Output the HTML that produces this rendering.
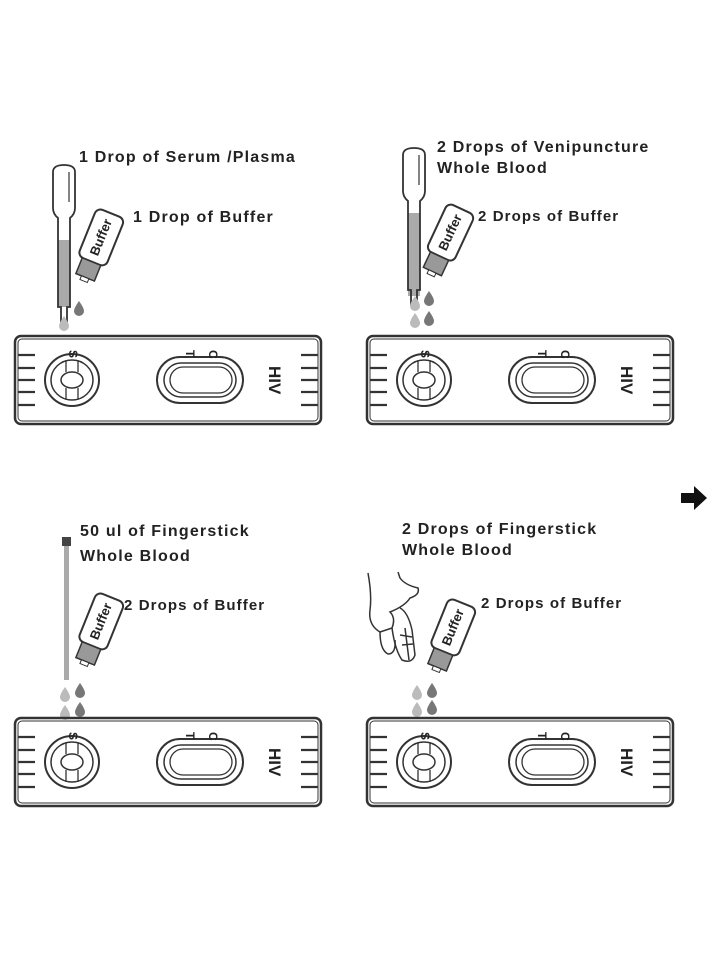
<!DOCTYPE html>
<html><head><style>
html,body{margin:0;padding:0;background:#fff;}
svg{display:block;}
text{font-family:"Liberation Sans",sans-serif;font-weight:bold;fill:#222;}
.l{font-size:16px;letter-spacing:1.2px;}
.m{font-size:15px;letter-spacing:1.1px;}
</style></head><body>
<svg width="712" height="971" viewBox="0 0 712 971" xmlns="http://www.w3.org/2000/svg">
<defs>
<g id="cas" fill="none" stroke="#333">
  <rect x="0" y="0" width="306" height="88" rx="6" stroke-width="2.5"/>
  <rect x="3" y="3" width="300" height="82" rx="4" stroke-width="1"/>
  <g stroke-width="2.2">
    <path d="M3 19H20M3 32H20M3 44H20M3 56H20M3 69H20"/>
    <path d="M286 19H303M286 32H303M286 44H303M286 56H303M286 69H303"/>
  </g>
  <ellipse cx="57" cy="44" rx="27" ry="26" stroke-width="2"/>
  <ellipse cx="57" cy="44" rx="21" ry="20" stroke-width="1.5"/>
  <ellipse cx="57" cy="44" rx="11" ry="8" stroke-width="1.5"/>
  <path d="M51 24V36M63 24V36M51 52V64M63 52V64" stroke-width="1.3"/>
  <rect x="142" y="21" width="86" height="46" rx="23" stroke-width="2"/>
  <rect x="149" y="27" width="72" height="34" rx="17" stroke-width="1.5"/>
  <rect x="155" y="31" width="62" height="26" rx="13" stroke-width="1.3"/>
</g>
<g id="bottle">
  <rect x="-15" y="-32" width="30" height="52" rx="6" fill="#fff" stroke="#333" stroke-width="2"/>
  <rect x="-10" y="20" width="20" height="17" fill="#999" stroke="#333" stroke-width="1.5"/>
  <rect x="-4" y="37" width="8" height="4" fill="#fff" stroke="#333" stroke-width="1"/>
</g>
<g id="pip" fill="none" stroke="#333" stroke-width="1.8">
  <path d="M0 0 Q0 -7 11 -7 Q22 -7 22 0 V36 Q22 42 17 46 V135 H14 V150 H8 V135 H5 V46 Q0 42 0 36 Z"/>
  <path d="M16 0 V30" stroke-width="1.2"/>
</g>
<path id="drop" d="M0 -7 Q5 0 5 3 A5 5 0 0 1 -5 3 Q-5 0 0 -7Z"/>
</defs>

<!-- Panel 1 -->
<text class="l" x="79" y="162">1 Drop of Serum /Plasma</text>
<text class="l" x="133" y="222">1 Drop of Buffer</text>
<rect x="58" y="240" width="12" height="67" fill="#aaa"/>
<use href="#pip" x="53" y="172"/>
<g transform="translate(99,243) rotate(22)"><use href="#bottle"/><text font-size="13" text-anchor="middle" transform="translate(4,-6) rotate(-90)">Buffer</text></g>
<use href="#drop" x="79" y="308" fill="#777"/>
<use href="#drop" x="64" y="323" fill="#bbb"/>
<use href="#cas" x="15" y="336"/>
<g transform="translate(15,336)">
<text font-size="12" transform="translate(54,14) rotate(90)">S</text>
<text font-size="12" transform="translate(171,14) rotate(90)">T</text>
<text font-size="12" transform="translate(194,14) rotate(90)">C</text>
<text font-size="17" font-weight="normal" transform="translate(254,30) rotate(90)">HIV</text>
</g>

<!-- Panel 2 -->
<text class="l" x="437" y="152">2 Drops of Venipuncture</text>
<text class="l" x="437" y="173">Whole Blood</text>
<text class="m" x="478" y="221">2 Drops of Buffer</text>
<rect x="408" y="213" width="12" height="83" fill="#aaa"/>
<use href="#pip" x="403" y="155"/>
<g transform="translate(448,238) rotate(25)"><use href="#bottle"/><text font-size="13" text-anchor="middle" transform="translate(4,-6) rotate(-90)">Buffer</text></g>
<use href="#drop" x="429" y="298" fill="#777"/>
<use href="#drop" x="429" y="318" fill="#777"/>
<use href="#drop" x="415" y="303" fill="#bbb"/>
<use href="#drop" x="415" y="320" fill="#bbb"/>
<use href="#cas" x="367" y="336"/>
<g transform="translate(367,336)">
<text font-size="12" transform="translate(54,14) rotate(90)">S</text>
<text font-size="12" transform="translate(171,14) rotate(90)">T</text>
<text font-size="12" transform="translate(194,14) rotate(90)">C</text>
<text font-size="17" font-weight="normal" transform="translate(254,30) rotate(90)">HIV</text>
</g>

<!-- Arrow -->
<path d="M681 493H694V486L707 498L694 510V503H681Z" fill="#111"/>

<!-- Panel 3 -->
<text class="l" x="80" y="536">50 ul of Fingerstick</text>
<text class="l" x="80" y="561">Whole Blood</text>
<text class="m" x="124" y="610">2 Drops of Buffer</text>
<rect x="62" y="537" width="9" height="9" fill="#444"/>
<rect x="64" y="546" width="5" height="134" fill="#aaa"/>
<g transform="translate(99,627) rotate(22)"><use href="#bottle"/><text font-size="13" text-anchor="middle" transform="translate(4,-6) rotate(-90)">Buffer</text></g>
<use href="#drop" x="80" y="690" fill="#777"/>
<use href="#drop" x="80" y="709" fill="#777"/>
<use href="#drop" x="65" y="694" fill="#bbb"/>
<use href="#drop" x="65" y="712" fill="#bbb"/>
<use href="#cas" x="15" y="718"/>
<g transform="translate(15,718)">
<text font-size="12" transform="translate(54,14) rotate(90)">S</text>
<text font-size="12" transform="translate(171,14) rotate(90)">T</text>
<text font-size="12" transform="translate(194,14) rotate(90)">C</text>
<text font-size="17" font-weight="normal" transform="translate(254,30) rotate(90)">HIV</text>
</g>

<!-- Panel 4 -->
<text class="l" x="402" y="534">2 Drops of Fingerstick</text>
<text class="l" x="402" y="555">Whole Blood</text>
<text class="m" x="481" y="608">2 Drops of Buffer</text>
<g fill="none" stroke="#333" stroke-width="1.5">
  <path d="M368 573 Q372 595 370 610 Q368 625 380 632 L392 628 Q396 618 390 612 Q405 606 410 598 Q420 595 418 588 Q405 585 400 578 L398 572"/>
  <path d="M380 632 Q380 650 388 654 Q396 654 395 640"/>
  <path d="M392 628 Q395 650 402 660 Q412 664 415 655 L412 630 Q408 612 400 608"/>
  <path d="M400 635 L412 637M402 645 L413 644M405 628 L409 660"/>
</g>
<g transform="translate(451,633) rotate(22)"><use href="#bottle"/><text font-size="13" text-anchor="middle" transform="translate(4,-6) rotate(-90)">Buffer</text></g>
<use href="#drop" x="432" y="690" fill="#777"/>
<use href="#drop" x="432" y="707" fill="#777"/>
<use href="#drop" x="417" y="692" fill="#bbb"/>
<use href="#drop" x="417" y="709" fill="#bbb"/>
<use href="#cas" x="367" y="718"/>
<g transform="translate(367,718)">
<text font-size="12" transform="translate(54,14) rotate(90)">S</text>
<text font-size="12" transform="translate(171,14) rotate(90)">T</text>
<text font-size="12" transform="translate(194,14) rotate(90)">C</text>
<text font-size="17" font-weight="normal" transform="translate(254,30) rotate(90)">HIV</text>
</g>
</svg>
</body></html>
